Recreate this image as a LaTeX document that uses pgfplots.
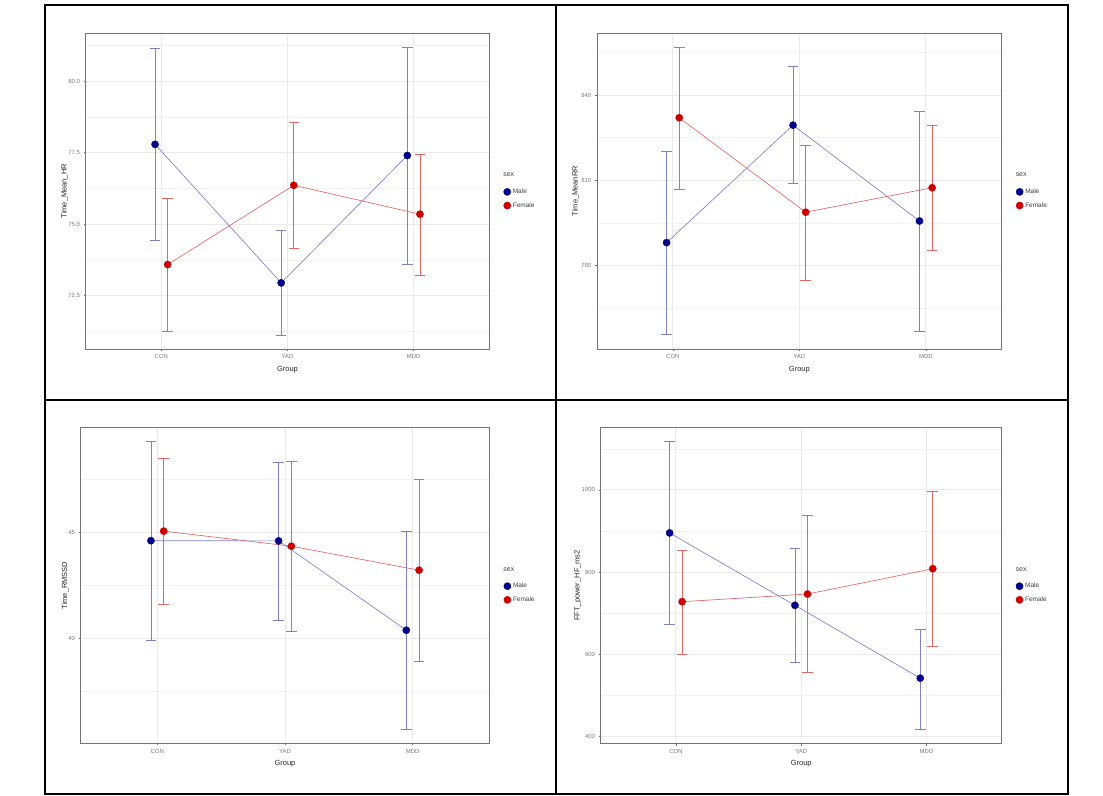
\documentclass[border=0pt]{standalone}
\usepackage{fontspec}
\setmainfont{Liberation Sans}
\usepackage{pgfplots}
\pgfplotsset{compat=1.18}
\usepackage{pgfplotstable}

\definecolor{maleC}{HTML}{00008B}
\definecolor{femC}{HTML}{CD0000}
\definecolor{tickC}{HTML}{7A7A7A}

% ---- data: x (dodged position), mean, lower, upper ----
\pgfplotstableread{
x y lo hi
0.95 77.79 74.44 81.13
1.95 72.95 71.13 74.78
2.95 77.40 73.59 81.18
}\hrM
\pgfplotstableread{
x y lo hi
1.05 73.59 71.27 75.89
2.05 76.36 74.15 78.56
3.05 75.35 73.21 77.45
}\hrF
\pgfplotstableread{
x y lo hi
0.95 788.1 755.7 820.1
1.95 829.4 808.8 850.0
2.95 795.7 757.0 834.1
}\rrM
\pgfplotstableread{
x y lo hi
1.05 832.0 807.0 856.6
2.05 798.8 774.9 822.3
3.05 807.4 785.4 829.2
}\rrF
\pgfplotstableread{
x y lo hi
0.95 44.62 39.94 49.29
1.95 44.61 40.87 48.30
2.95 40.40 35.74 45.05
}\rmM
\pgfplotstableread{
x y lo hi
1.05 45.07 41.62 48.51
2.05 44.36 40.35 48.37
3.05 43.23 38.95 47.50
}\rmF
\pgfplotstableread{
x y lo hi
0.95 895.2 671.6 1117.7
1.95 718.9 579.5 857.7
2.95 541.5 417.8 661.6
}\hfM
\pgfplotstableread{
x y lo hi
1.05 727.7 600.7 852.9
2.05 746.4 556.2 938.4
3.05 808.0 618.5 996.8
}\hfF

\colorlet{maleLC}{maleC!50!white}
\colorlet{femLC}{femC!60!white}

\pgfplotsset{
  panel/.style={
    scale only axis,
    clip mode=individual,
    height=315.7bp,
    xmin=0.4, xmax=3.6,
    xtick={1,2,3}, xticklabels={CON,YAD,MDD},
    xtick pos=bottom, ytick pos=left,
    grid=both,
    major grid style={black!8, line width=1bp},
    minor grid style={black!5, line width=0.6bp},
    axis line style={black!55, line width=0.8bp},
    tick align=outside,
    major tick length=2.2bp,
    minor tick length=0pt,
    tick style={black!55, line width=0.6bp},
    ticklabel style={font=\fontsize{6}{7}\selectfont, text=tickC},
    /pgf/number format/assume math mode=true,
    /pgf/number format/1000 sep={},
    label style={font=\fontsize{7.5}{9}\selectfont, text=black!85},
    xlabel={Group},
    xlabel style={at={(axis description cs:0.5,-0.064)}, anchor=center},
    legend style={at={(axis description cs:1.035,0.476)}, anchor=west,
      draw=none, fill=none, inner sep=0pt, row sep=3.5bp,
      font=\fontsize{6.5}{7}\selectfont, text=black!75},
    legend cell align=left,
    legend image code/.code={\draw[##1] plot coordinates {(0.1cm,0cm)};},
  },
  maleL/.style={color=maleLC, line width=0.65bp, mark=none,
    error bars/y dir=both, error bars/y explicit,
    error bars/error bar style={maleLC, line width=0.65bp},
    error bars/error mark options={rotate=90, mark size=5.3bp, maleLC, line width=0.65bp}},
  femL/.style={color=femLC, line width=0.65bp, mark=none,
    error bars/y dir=both, error bars/y explicit,
    error bars/error bar style={femLC, line width=0.65bp},
    error bars/error mark options={rotate=90, mark size=5.3bp, femLC, line width=0.65bp}},
  maleP/.style={only marks, mark=*, mark size=3.6bp, color=maleC, mark options={fill=maleC, draw=maleC}},
  femP/.style={only marks, mark=*, mark size=3.6bp, color=femC, mark options={fill=femC, draw=femC}},
}

\newcommand{\sexlegend}{%
  \node[anchor=west, font=\fontsize{7}{8}\selectfont, text=black!75] at (axis description cs:1.026,0.551) {sex};}

\begin{document}
\begin{tikzpicture}
\fill[white] (0,0) rectangle (1103bp,796bp);

% ---------- Panel 1 ----------
\begin{axis}[panel, at={(85.7bp,447bp)}, anchor=south west, width=403.6bp,
  ymin=70.64, ymax=81.67,
  ytick={72.5,75,77.5,80}, minor ytick={71.25,73.75,76.25,78.75,81.25},
  yticklabel style={/pgf/number format/.cd, fixed, fixed zerofill, precision=1},
  ylabel={Time\_Mean\_HR},
  ylabel style={at={(axis description cs:-0.052,0.5)}, anchor=center}]
\addplot[maleL, forget plot] table[x=x, y=y, y error plus expr=\thisrow{hi}-\thisrow{y}, y error minus expr=\thisrow{y}-\thisrow{lo}] {\hrM};
\addplot[femL, forget plot] table[x=x, y=y, y error plus expr=\thisrow{hi}-\thisrow{y}, y error minus expr=\thisrow{y}-\thisrow{lo}] {\hrF};
\addplot[maleP] table[x=x, y=y] {\hrM};
\addplot[femP] table[x=x, y=y] {\hrF};
\legend{Male, Female}
\sexlegend
\end{axis}

% ---------- Panel 2 ----------
\begin{axis}[panel, at={(597bp,447bp)}, anchor=south west, width=404.7bp,
  ymin=750.7, ymax=861.7,
  ytick={780,810,840}, minor ytick={765,795,825,855},
  ylabel={Time\_MeanRR},
  ylabel style={at={(axis description cs:-0.053,0.5)}, anchor=center}]
\addplot[maleL, forget plot] table[x=x, y=y, y error plus expr=\thisrow{hi}-\thisrow{y}, y error minus expr=\thisrow{y}-\thisrow{lo}] {\rrM};
\addplot[femL, forget plot] table[x=x, y=y, y error plus expr=\thisrow{hi}-\thisrow{y}, y error minus expr=\thisrow{y}-\thisrow{lo}] {\rrF};
\addplot[maleP] table[x=x, y=y] {\rrM};
\addplot[femP] table[x=x, y=y] {\rrF};
\legend{Male, Female}
\sexlegend
\end{axis}

% ---------- Panel 3 ----------
\begin{axis}[panel, at={(80.7bp,52.7bp)}, anchor=south west, width=408.6bp,
  ymin=35.07, ymax=49.95,
  ytick={40,45}, minor ytick={37.5,42.5,47.5},
  ylabel={Time\_RMSSD},
  ylabel style={at={(axis description cs:-0.038,0.5)}, anchor=center}]
\addplot[maleL, forget plot] table[x=x, y=y, y error plus expr=\thisrow{hi}-\thisrow{y}, y error minus expr=\thisrow{y}-\thisrow{lo}] {\rmM};
\addplot[femL, forget plot] table[x=x, y=y, y error plus expr=\thisrow{hi}-\thisrow{y}, y error minus expr=\thisrow{y}-\thisrow{lo}] {\rmF};
\addplot[maleP] table[x=x, y=y] {\rmM};
\addplot[femP] table[x=x, y=y] {\rmF};
\legend{Male, Female}
\sexlegend
\end{axis}

% ---------- Panel 4 ----------
\begin{axis}[panel, at={(600.7bp,52.7bp)}, anchor=south west, width=401bp,
  ymin=382.8, ymax=1151.8,
  ytick={400,600,800,1000}, minor ytick={500,700,900,1100},
  ylabel={FFT\_power\_HF\_ms2},
  ylabel style={at={(axis description cs:-0.057,0.5)}, anchor=center}]
\addplot[maleL, forget plot] table[x=x, y=y, y error plus expr=\thisrow{hi}-\thisrow{y}, y error minus expr=\thisrow{y}-\thisrow{lo}] {\hfM};
\addplot[femL, forget plot] table[x=x, y=y, y error plus expr=\thisrow{hi}-\thisrow{y}, y error minus expr=\thisrow{y}-\thisrow{lo}] {\hfF};
\addplot[maleP] table[x=x, y=y] {\hfM};
\addplot[femP] table[x=x, y=y] {\hfF};
\legend{Male, Female}
\sexlegend
\end{axis}

% ---------- table frame ----------
\draw[line width=1.3bp, black] (45bp,2bp) rectangle (1068bp,791bp);
\draw[line width=1.3bp, black] (556bp,2bp) -- (556bp,791bp);
\draw[line width=1.3bp, black] (45bp,396bp) -- (1068bp,396bp);
\end{tikzpicture}
\end{document}
